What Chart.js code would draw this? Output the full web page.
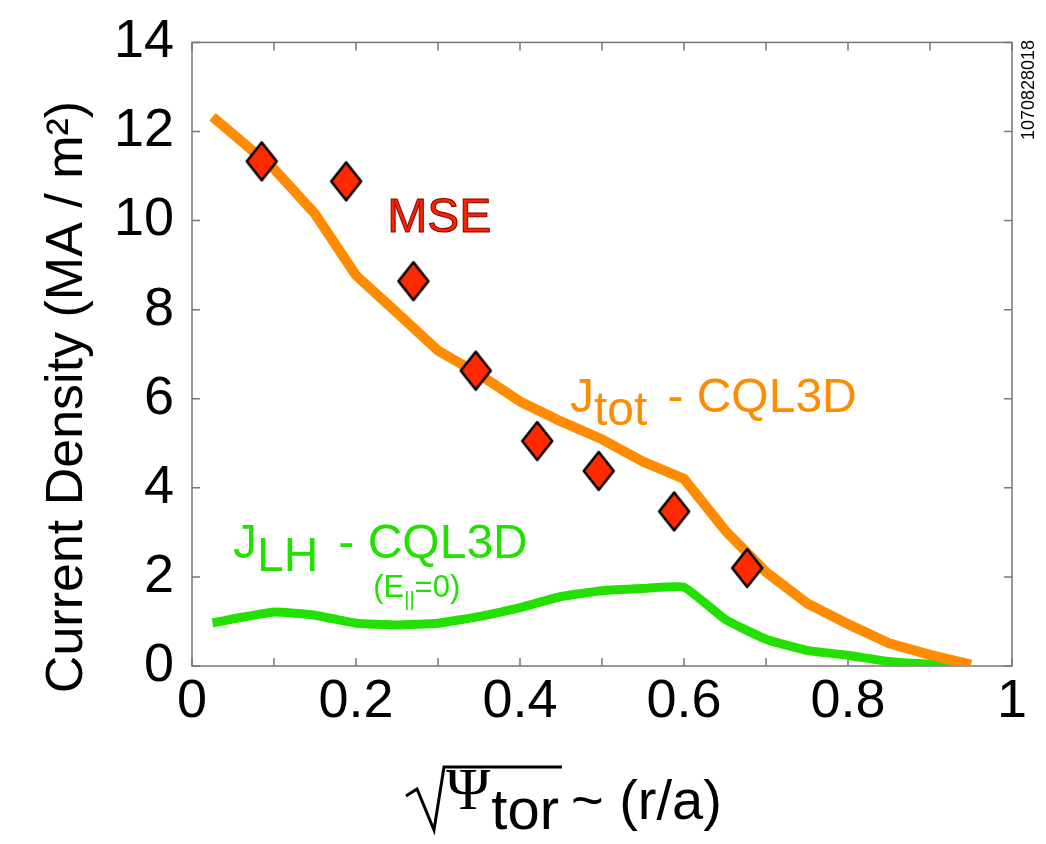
<!DOCTYPE html>
<html>
<head>
<meta charset="utf-8">
<script src="https://cdn.jsdelivr.net/npm/chart.js@4"></script>
<style>
  html, body { margin: 0; padding: 0; background: #fff; }
</style>
</head>
<body>
<canvas id="chart" width="1046" height="844"></canvas>
<script>
// sqrt(psi_tor) grid of the CQL3D profiles
const rho = [0.025, 0.1, 0.15, 0.2, 0.25, 0.3, 0.35, 0.4, 0.45, 0.5, 0.55, 0.6, 0.65, 0.7, 0.75, 0.8, 0.85, 0.9, 0.95];
const jTot = [12.33, 11.16, 10.15, 8.77, 7.93, 7.08, 6.55, 5.94, 5.49, 5.09, 4.59, 4.2, 3.05, 2.11, 1.41, 0.94, 0.51, 0.25, 0.03];
const jLH = [0.97, 1.21, 1.14, 0.96, 0.92, 0.96, 1.11, 1.31, 1.56, 1.69, 1.74, 1.77, 1.05, 0.6, 0.35, 0.24, 0.1, 0.04, 0.02];

// MSE measurements
const mseRho = [0.085, 0.188, 0.27, 0.346, 0.421, 0.496, 0.588, 0.677];
const mseJ = [11.33, 10.88, 8.64, 6.63, 5.05, 4.38, 3.47, 2.2];

const xTickLabels = ['0', '0.2', '0.4', '0.6', '0.8', '1'];
const yTickLabels = ['0', '2', '4', '6', '8', '10', '12', '14'];

const SANS = '"Liberation Sans", Arial, sans-serif';

// diamond marker, a bit taller than wide
const diamond = document.createElement('canvas');
diamond.width = 34; diamond.height = 42;
(function () {
  const c = diamond.getContext('2d');
  c.beginPath();
  c.moveTo(17, 2); c.lineTo(32, 21); c.lineTo(17, 40); c.lineTo(2, 21); c.closePath();
  c.fillStyle = '#ff2a00';
  c.fill();
  c.lineWidth = 2.5;
  c.strokeStyle = '#000';
  c.lineJoin = 'round';
  c.stroke();
})();

function drawParts(ctx, x, y, parts) {
  parts.forEach(p => {
    ctx.font = p.font;
    ctx.fillStyle = p.color;
    ctx.fillText(p.text, x, y + (p.dy || 0));
    if (p.stroke) {
      ctx.lineWidth = 1;
      ctx.strokeStyle = p.stroke;
      ctx.strokeText(p.text, x, y + (p.dy || 0));
    }
    x += ctx.measureText(p.text).width + (p.gap || 0);
  });
  return x;
}

const frame = {
  id: 'frame',
  beforeDatasetsDraw(chart) {
    const { ctx, chartArea: a, scales: { x, y } } = chart;
    ctx.save();
    ctx.strokeStyle = '#777';
    ctx.lineWidth = 1.5;
    ctx.strokeRect(a.left, a.top, a.right - a.left, a.bottom - a.top);
    const len = 8;
    ctx.beginPath();
    x.ticks.forEach(t => {
      const px = x.getPixelForValue(t.value);
      ctx.moveTo(px, a.bottom); ctx.lineTo(px, a.bottom - len);
      ctx.moveTo(px, a.top); ctx.lineTo(px, a.top + len);
    });
    y.ticks.forEach(t => {
      const py = y.getPixelForValue(t.value);
      ctx.moveTo(a.left, py); ctx.lineTo(a.left + len, py);
      ctx.moveTo(a.right, py); ctx.lineTo(a.right - len, py);
    });
    ctx.stroke();
    ctx.restore();
  },
  afterDraw(chart) {
    const { ctx, scales: { x, y } } = chart;
    ctx.save();
    ctx.textAlign = 'left';
    ctx.textBaseline = 'alphabetic';

    // in-plot labels
    drawParts(ctx, x.getPixelForValue(0.238), y.getPixelForValue(9.75), [
      { text: 'MSE', font: '48px ' + SANS, color: '#ff2200', stroke: '#7a0000' }
    ]);
    drawParts(ctx, x.getPixelForValue(0.461), y.getPixelForValue(5.7), [
      { text: 'J', font: '48px ' + SANS, color: '#ff8c00' },
      { text: 'tot', font: '48px ' + SANS, color: '#ff8c00', dy: 13, gap: 20 },
      { text: '- CQL3D', font: '48px ' + SANS, color: '#ff8c00' }
    ]);
    drawParts(ctx, x.getPixelForValue(0.05), y.getPixelForValue(2.43), [
      { text: 'J', font: '48px ' + SANS, color: '#22e000' },
      { text: 'LH', font: '48px ' + SANS, color: '#22e000', dy: 13, gap: 20 },
      { text: '- CQL3D', font: '48px ' + SANS, color: '#22e000' }
    ]);
    drawParts(ctx, x.getPixelForValue(0.221), y.getPixelForValue(1.54), [
      { text: '(E', font: '31px ' + SANS, color: '#22e000' },
      { text: '||', font: '20px ' + SANS, color: '#22e000', dy: 9 },
      { text: '=0)', font: '31px ' + SANS, color: '#22e000' }
    ]);

    // y axis title
    ctx.save();
    ctx.translate(68, 397);
    ctx.rotate(-Math.PI / 2);
    ctx.textAlign = 'center';
    ctx.textBaseline = 'middle';
    ctx.fillStyle = '#000';
    ctx.font = '52px ' + SANS;
    ctx.fillText('Current Density (MA / m²)', 0, 0);
    ctx.restore();

    // x axis title: sqrt(Psi_tor) ~ (r/a)
    ctx.fillStyle = '#000';
    let cx = 446;
    ctx.font = '60px "Liberation Serif", serif';
    ctx.fillText('Ψ', cx, 809);
    cx += ctx.measureText('Ψ').width + 1;
    ctx.font = '58px ' + SANS;
    ctx.fillText('tor', cx, 829);
    cx += ctx.measureText('tor').width;
    const barEnd = cx + 3;
    cx += 12;
    ctx.font = '56px ' + SANS;
    ctx.fillText('~ (r/a)', cx, 819);
    ctx.strokeStyle = '#000';
    ctx.lineWidth = 3;
    ctx.lineJoin = 'miter';
    ctx.beginPath();
    ctx.moveTo(406, 796); ctx.lineTo(417, 789); ctx.lineTo(434, 830); ctx.lineTo(444, 767); ctx.lineTo(barEnd, 767);
    ctx.stroke();

    // shot number on the right
    ctx.save();
    ctx.translate(1029, 90);
    ctx.rotate(-Math.PI / 2);
    ctx.textAlign = 'center';
    ctx.textBaseline = 'middle';
    ctx.font = '18px ' + SANS;
    ctx.fillText('1070828018', 0, 0);
    ctx.restore();

    ctx.restore();
  }
};

new Chart(document.getElementById('chart'), {
  type: 'line',
  data: {
    datasets: [
      {
        label: 'MSE',
        data: mseRho.map((r, i) => ({ x: r, y: mseJ[i] })),
        showLine: false,
        pointStyle: diamond,
        pointRadius: 17
      },
      {
        label: 'J_tot - CQL3D',
        data: rho.map((r, i) => ({ x: r, y: jTot[i] })),
        borderColor: '#ff8c00',
        borderWidth: 10,
        pointRadius: 0,
        tension: 0,
        borderJoinStyle: 'round'
      },
      {
        label: 'J_LH - CQL3D',
        data: rho.map((r, i) => ({ x: r, y: jLH[i] })),
        borderColor: '#22e000',
        borderWidth: 9,
        pointRadius: 0,
        tension: 0.12,
        borderJoinStyle: 'round'
      }
    ]
  },
  options: {
    responsive: false,
    animation: false,
    layout: { padding: { left: 0, top: 37, right: 34, bottom: 0 } },
    plugins: { legend: { display: false }, tooltip: { enabled: false } },
    scales: {
      x: {
        type: 'linear',
        min: 0,
        max: 1,
        grid: { display: false },
        border: { display: false },
        ticks: {
          stepSize: 0.1,
          autoSkip: false,
          maxRotation: 0,
          padding: -4,
          color: '#000',
          font: { family: SANS, size: 54 },
          callback: v => {
            const k = Math.round(v * 10);
            return k % 2 ? '' : xTickLabels[k / 2];
          }
        },
        afterFit: s => { s.height = 178; }
      },
      y: {
        min: 0,
        max: 14,
        grid: { display: false },
        border: { display: false },
        ticks: {
          stepSize: 2,
          padding: 10,
          color: '#000',
          font: { family: SANS, size: 54 },
          callback: v => yTickLabels[Math.round(v / 2)]
        },
        afterFit: s => { s.width = 192; }
      }
    }
  },
  plugins: [frame]
});
</script>
</body>
</html>
